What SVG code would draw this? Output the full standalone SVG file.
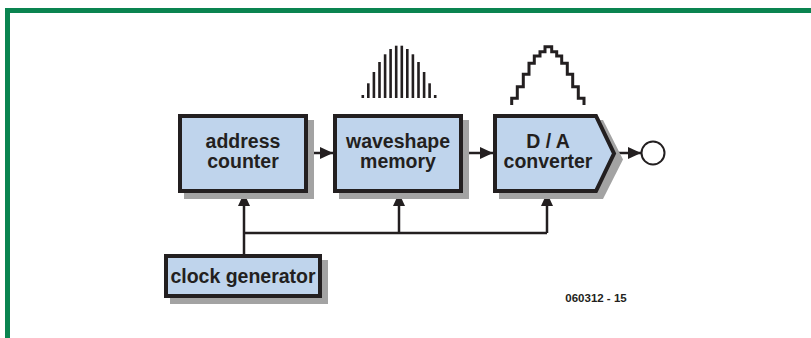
<svg xmlns="http://www.w3.org/2000/svg" width="811" height="338" viewBox="0 0 811 338">
  <defs>
    <style>
      .box { fill: #bfd4ec; stroke: #231f20; stroke-width: 4; stroke-linejoin: miter; }
      .shadow { fill: #a3a3a3; }
      .lbl { font-family: "Liberation Sans", Arial, sans-serif; font-weight: bold; font-size: 19.5px; fill: #231f20; text-anchor: middle; }
      .wire { fill: none; stroke: #231f20; stroke-width: 2.5; }
      .wave { fill: none; stroke: #231f20; stroke-width: 3; }
      .bar { fill: #231f20; }
    </style>
    <marker id="arr" viewBox="0 0 13 12" refX="13" refY="6" markerWidth="13" markerHeight="12" markerUnits="userSpaceOnUse" orient="auto">
      <path d="M0,0 L13,6 L0,12 Z" fill="#231f20"/>
    </marker>
  </defs>
  <rect width="811" height="338" fill="#ffffff"/>
  <path d="M7.5 338 V10.5 H811" fill="none" stroke="#0a8450" stroke-width="5"/>

  <g id="connectors">
    <line class="wire" x1="308" y1="153" x2="333" y2="153" marker-end="url(#arr)"/>
    <line class="wire" x1="463" y1="153" x2="493" y2="153" marker-end="url(#arr)"/>
    <line class="wire" x1="617" y1="153" x2="641" y2="153" marker-end="url(#arr)"/>
    <line class="wire" x1="244" y1="254" x2="244" y2="193" marker-end="url(#arr)"/>
    <polyline class="wire" points="244,233 547,233"/>
    <line class="wire" x1="399" y1="233" x2="399" y2="193" marker-end="url(#arr)"/>
    <line class="wire" x1="547" y1="233" x2="547" y2="193" marker-end="url(#arr)"/>
  </g>

  <g id="address-counter">
    <rect class="shadow" x="184" y="120" width="130" height="79"/>
    <rect class="box" x="180" y="116" width="126" height="75"/>
    <text class="lbl" x="243" y="148">address</text>
    <text class="lbl" x="243" y="168">counter</text>
  </g>

  <g id="waveshape-memory">
    <rect class="shadow" x="339" y="120" width="130" height="79"/>
    <rect class="box" x="335" y="116" width="126" height="75"/>
    <text class="lbl" x="398" y="148">waveshape</text>
    <text class="lbl" x="398" y="168">memory</text>
  </g>

  <g id="da-converter">
    <polygon class="shadow" points="499,120 603,120 623,159.5 603,199 499,199"/>
    <polygon class="box" points="495,116 596,116 614,153.5 596,191 495,191"/>
    <text class="lbl" x="548" y="148">D / A</text>
    <text class="lbl" x="548" y="168">converter</text>
  </g>

  <g id="output">
    <circle cx="653" cy="153" r="11.5" fill="#ffffff" stroke="#231f20" stroke-width="2"/>
  </g>

  <g id="clock-generator">
    <rect class="shadow" x="170" y="260" width="158" height="44"/>
    <rect class="box" x="166" y="256" width="154" height="40"/>
    <text class="lbl" x="243" y="283">clock generator</text>
  </g>

  <g id="bars">
    <rect class="bar" x="361.5" y="95" width="2.6" height="3"/>
    <rect class="bar" x="367" y="83.3" width="2.6" height="14.7"/>
    <rect class="bar" x="372.6" y="72" width="2.6" height="26"/>
    <rect class="bar" x="378.2" y="62" width="2.6" height="36"/>
    <rect class="bar" x="383.8" y="54.3" width="2.6" height="43.7"/>
    <rect class="bar" x="389.3" y="49" width="2.6" height="49"/>
    <rect class="bar" x="394.9" y="45.7" width="2.6" height="52.3"/>
    <rect class="bar" x="400.5" y="45.7" width="2.6" height="52.3"/>
    <rect class="bar" x="406" y="49" width="2.6" height="49"/>
    <rect class="bar" x="411.6" y="54.3" width="2.6" height="43.7"/>
    <rect class="bar" x="417.2" y="62" width="2.6" height="36"/>
    <rect class="bar" x="422.8" y="72" width="2.6" height="26"/>
    <rect class="bar" x="428.3" y="83.3" width="2.6" height="14.7"/>
    <rect class="bar" x="433.9" y="95" width="2.6" height="3"/>
  </g>

  <g id="staircase">
    <polyline class="wave" points="511.7,105 511.7,98.3 517.3,98.3 517.3,86.7 523.3,86.7 523.3,74.3 529,74.3 529,63.3 534.3,63.3 534.3,56 540,56 540,51.7 545,51.7 545,46.7 551.7,46.7 551.7,51.7 556.7,51.7 556.7,56 561.7,56 561.7,63.3 567.3,63.3 567.3,74.3 572.7,74.3 572.7,86.7 578.3,86.7 578.3,98.3 584,98.3 584,105"/>
  </g>

  <text x="596" y="302" font-family="'Liberation Sans', Arial, sans-serif" font-weight="bold" font-size="11.5" fill="#231f20" text-anchor="middle">060312 - 15</text>
</svg>
